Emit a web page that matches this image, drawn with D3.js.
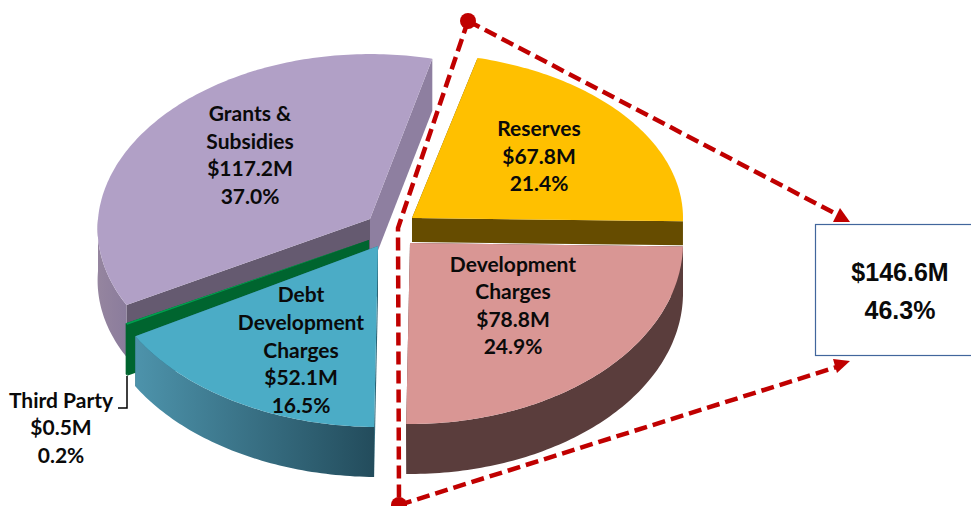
<!DOCTYPE html>
<html><head><meta charset="utf-8">
<script src="https://cdn.jsdelivr.net/npm/d3@7/dist/d3.min.js"></script>
<style>html,body{margin:0;padding:0;background:#fff;overflow:hidden}svg{display:block}</style>
</head><body><svg id="c" width="971" height="506"></svg>
<script>
// ---- data ----
const categories = ["Reserves","Development Charges","Debt Development Charges","Third Party","Grants & Subsidies"];
const amounts = [67.8,78.8,52.1,0.5,117.2];
const shares = ["21.4%","24.9%","16.5%","0.2%","37.0%"];
const amountLabels = ["$67.8M","$78.8M","$52.1M","$0.5M","$117.2M"];
const labelLines = [["Reserves"],["Development","Charges"],["Debt","Development","Charges"],["Third Party"],["Grants &","Subsidies"]];
const calloutLines = ["$146.6M","46.3%"];

// ---- styling & layout (not data) ----
const topColors = ["#ffc000","#d99694","#4bacc6","#00a04f","#b1a0c6"];
const cutStartColors = ["#664c00","#5a3d3c","#2b6476","#00652f","#655a70"];
const cutEndColors = ["#664c00","#5a3d3c","#2b6476","#00652f","#8e7fa0"];
const sideFills = ["#664c00","#5a3d3c","url(#gDebt)","#00652f","url(#gGrants)"];
const slicePlace = [
 {cx:412,cy:218,rx:271,ry:165,d:24,t:0,q:0},
 {cx:410,cy:243,rx:273,ry:181,d:50,t:0,q:0},
 {cx:378,cy:246,rx:280,ry:181,d:50,t:0,q:0},
 {cx:369,cy:240,rx:279,ry:170,d:51,t:0,q:0},
 {cx:370,cy:219,rx:272,ry:172,d:52,t:0.055,q:0.041}
];
const labelPlace = [
 {x:539,y:[136,164,191]},
 {x:513,y:[272,299,327,354]},
 {x:301,y:[302,330,358,385,413]},
 {x:61,y:[408,435,463]},
 {x:250,y:[121,149,176,204]}
];
const startDeg = 14;
const red = "#c00000";

const svg = d3.select("#c");
const rad = Math.PI/180;
const pie = d3.pie().sort(null).value(d=>d)
  .startAngle(startDeg*rad).endAngle((startDeg+360)*rad);
const arcs = pie(amounts);

const defs = svg.append("defs");
function grad(id,stops){
  const g = defs.append("linearGradient").attr("id",id).attr("x1","0").attr("x2","1").attr("y1","0").attr("y2","0");
  stops.forEach(s=>g.append("stop").attr("offset",s[0]).attr("stop-color",s[1]));
}
grad("gDebt",[[0,"#4d93ab"],[1,"#234c5c"]]);
grad("gGrants",[[0,"#95859f"],[1,"#8b7c9c"]]);

const line = d3.line();
const proj = (g,a,dz=0)=>{
  const c=Math.cos(a);
  return [g.cx+g.rx*Math.sin(a)*(1-g.t*c), g.cy-g.ry*c*(1-g.q*c)+dz];
};
const arcPts = (g,a0,a1,dz=0)=>{
  const n = Math.max(2,Math.ceil(Math.abs(a1-a0)/rad));
  return d3.range(n+1).map(i=>proj(g,a0+(a1-a0)*i/n,dz));
};

function drawSlice(i){
  const s = arcs[i], g = slicePlace[i], a0=s.startAngle, a1=s.endAngle;
  const G = svg.append("g").attr("class","slice").attr("data-name",categories[i]);
  const apex=[g.cx,g.cy], apexB=[g.cx,g.cy+g.d];
  // radial cut walls
  G.append("path").attr("fill",cutEndColors[i])
    .attr("d",line([apex,proj(g,a1),proj(g,a1,g.d),apexB])+"Z");
  G.append("path").attr("fill",cutStartColors[i])
    .attr("d",line([apex,proj(g,a0),proj(g,a0,g.d),apexB])+"Z");
  // outer wall: only the part that faces the viewer
  const v0=Math.max(a0,90*rad), v1=Math.min(a1,270*rad);
  if(v1>v0) G.append("path").attr("fill",sideFills[i])
    .attr("d",line([...arcPts(g,v0,v1),...arcPts(g,v1,v0,g.d)])+"Z");
  // top face
  G.append("path").attr("fill",topColors[i])
    .attr("d",line([apex,...arcPts(g,a0,a1)])+"Z");
}
// painter's order: back to front
[4,3,2,0,1].forEach(drawSlice);

// labels
function label(i){
  const lines = [...labelLines[i],amountLabels[i],shares[i]], p = labelPlace[i];
  const t = svg.append("text").attr("text-anchor","middle")
    .attr("font-family","Lato, 'Open Sans', sans-serif").attr("font-weight","700")
    .attr("font-size",21).attr("fill","#0a0a0a");
  lines.forEach((l,k)=>t.append("tspan").attr("x",p.x).attr("y",p.y[k]).text(l));
}
[0,1,2,3,4].forEach(label);

// third party leader
svg.append("path").attr("fill","none").attr("stroke","#000").attr("stroke-width",1.5)
  .attr("d",line([[127,376],[127,408],[118,408]]));

// dashed callout
const dash = g=>g.attr("fill","none").attr("stroke",red).attr("stroke-width",4.5).attr("stroke-dasharray","13 6");
const A=[468,21],B=[398,228],C=[399,505];
svg.append("path").call(dash).attr("d",line([A,B,C]));
svg.append("path").call(dash).attr("d",line([A,[840,216]]));
svg.append("path").call(dash).attr("d",line([C,[840,366]]));
svg.append("path").attr("fill",red).attr("d",line([[833,222],[850,222],[840,208]])+"Z");
svg.append("path").attr("fill",red).attr("d",line([[833,359],[850,361],[837,373]])+"Z");
svg.append("circle").attr("cx",A[0]).attr("cy",A[1]).attr("r",8).attr("fill",red);
svg.append("circle").attr("cx",C[0]).attr("cy",C[1]).attr("r",8).attr("fill",red);

// box
svg.append("rect").attr("x",815.5).attr("y",224.5).attr("width",170).attr("height",131)
  .attr("fill","#fff").attr("stroke","#41669c").attr("stroke-width",1.2);
const bt = svg.append("text").attr("text-anchor","middle")
  .attr("font-family","'Liberation Sans',Arial,sans-serif").attr("font-weight","700")
  .attr("font-size",25).attr("fill","#0a0a0a");
calloutLines.forEach((l,k)=>bt.append("tspan").attr("x",900).attr("y",[281,319][k]).text(l));
</script></body></html>
